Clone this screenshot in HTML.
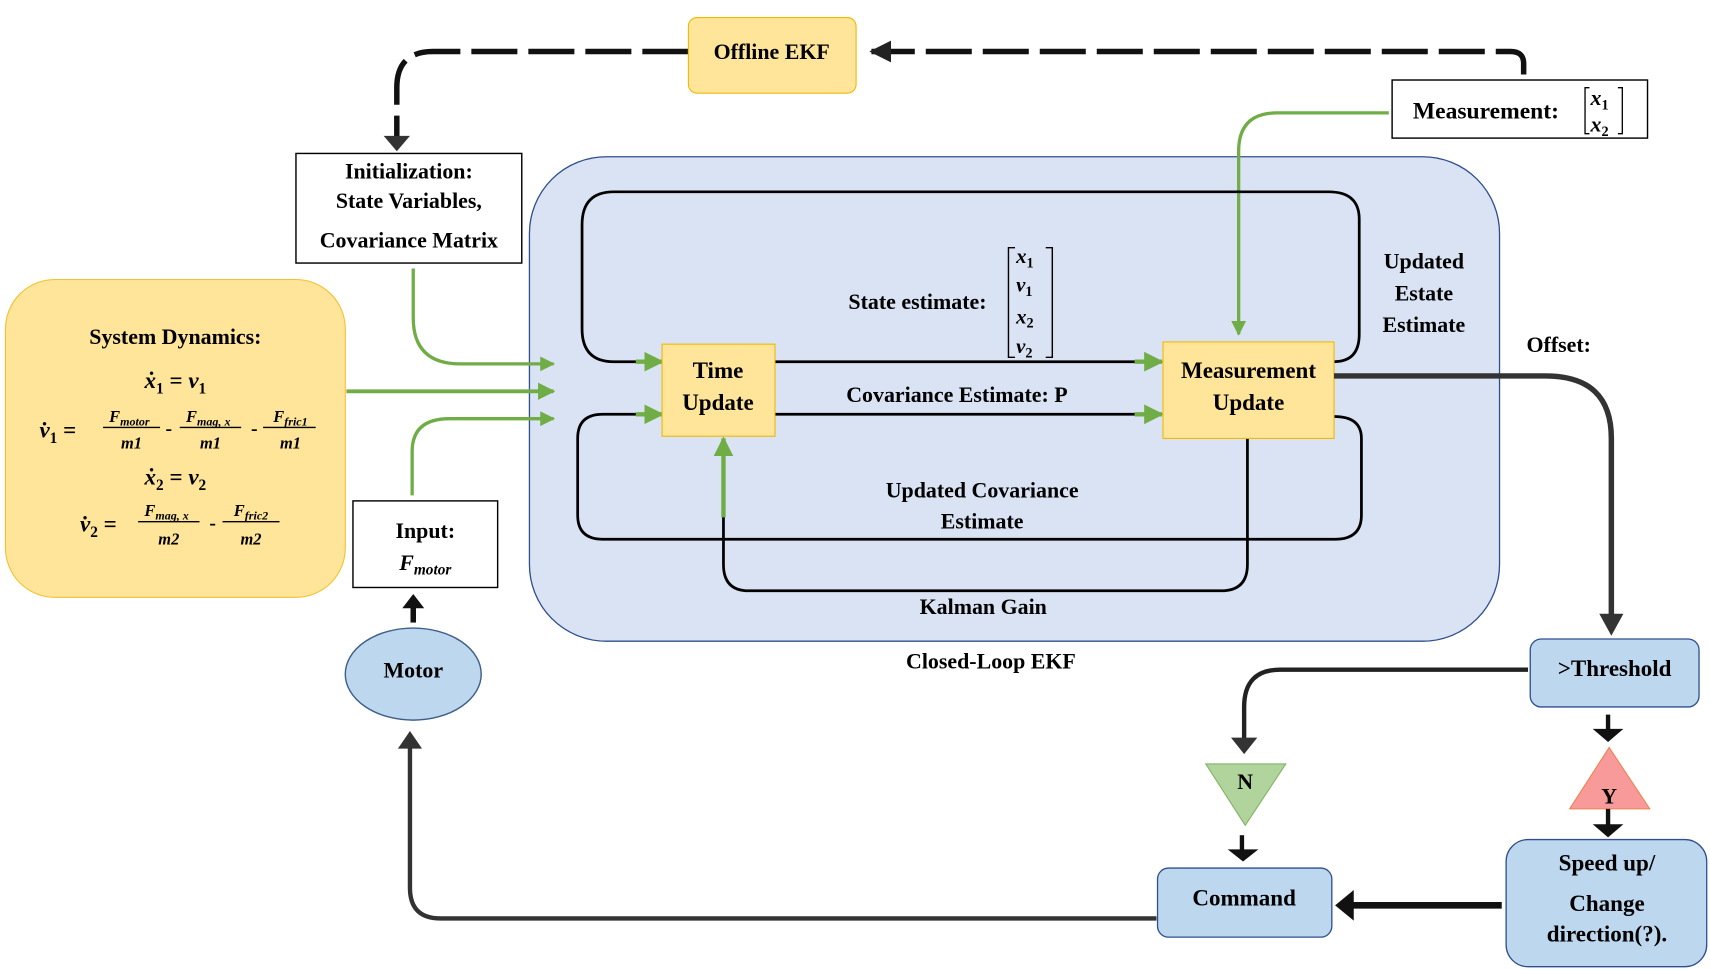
<!DOCTYPE html>
<html><head><meta charset="utf-8"><style>
html,body{margin:0;padding:0;background:#fff;}
svg{display:block;}
text{font-family:"Liberation Serif",serif;font-weight:bold;fill:#000;}
.i{font-style:italic;}
</style></head><body>
<svg width="1710" height="970" viewBox="0 0 1560 885" preserveAspectRatio="none" xmlns="http://www.w3.org/2000/svg">
<defs>
<marker id="ag" viewBox="0 0 10 10" refX="9" refY="5" markerWidth="4.5" markerHeight="4.5" orient="auto"><path d="M0,0L10,5L0,10z" fill="#70ad47"/></marker>
<marker id="ak" viewBox="0 0 10 10" refX="9" refY="5" markerWidth="4" markerHeight="4" orient="auto"><path d="M0,0L10,5L0,10z" fill="#222"/></marker>
</defs>

<rect x="483" y="143" width="885" height="442" rx="70" fill="#dae3f3" stroke="#2f4f8f" stroke-width="1.2"/>

<path d="M1390,68 L1390,58 Q1390,47 1378,47 L795,47" fill="none" stroke="#111" stroke-width="5" stroke-dasharray="42,10" marker-end="url(#ak)"/>
<path d="M628,47 L395,47 Q362,47 362,80 L362,128" fill="none" stroke="#111" stroke-width="5" stroke-dasharray="42,10"/>
<path d="M350,124 L374,124 L362,138z" fill="#333"/>

<rect x="628" y="16" width="153" height="69" rx="8" fill="#ffe599" stroke="#f0b800"/>
<text x="704" y="54" font-size="20" text-anchor="middle">Offline EKF</text>

<rect x="1270" y="73" width="233" height="53" fill="#fff" stroke="#000" stroke-width="1.3"/>
<text x="1289" y="108" font-size="21.5">Measurement:</text>
<path d="M1450,80 L1446,80 L1446,122 L1450,122 M1476,80 L1480,80 L1480,122 L1476,122" fill="none" stroke="#000" stroke-width="1.2"/>
<text x="1451" y="96" font-size="20" class="i">x<tspan font-size="13" dy="4" font-style="normal">1</tspan></text>
<text x="1451" y="120" font-size="20" class="i">x<tspan font-size="13" dy="4" font-style="normal">2</tspan></text>

<path d="M1267,103 L1165,103 Q1130,103 1130,138 L1130,305" fill="none" stroke="#70ad47" stroke-width="3" marker-end="url(#ag)"/>

<rect x="270" y="140" width="206" height="100" fill="#fff" stroke="#000" stroke-width="1.3"/>
<text x="373" y="163" font-size="20" text-anchor="middle">Initialization:</text>
<text x="373" y="190" font-size="20" text-anchor="middle">State Variables,</text>
<text x="373" y="226" font-size="20" text-anchor="middle">Covariance Matrix</text>

<rect x="5" y="255" width="310" height="290" rx="45" fill="#ffe599" stroke="#f5c030"/>
<text x="160" y="314" font-size="20" text-anchor="middle">System Dynamics:</text>
<text x="160" y="354" font-size="21" text-anchor="middle" class="i">ẋ<tspan font-size="14" dy="5" font-style="normal">1</tspan><tspan dy="-5" font-style="normal"> = </tspan>v<tspan font-size="14" dy="5" font-style="normal">1</tspan></text>
<text x="36" y="399" font-size="21" class="i">v̇<tspan font-size="14" dy="5" font-style="normal">1</tspan><tspan dy="-5" font-style="normal"> =</tspan></text>
<text x="118" y="385" font-size="15" text-anchor="middle" class="i">F<tspan font-size="11" dy="3">motor</tspan></text>
<line x1="94" y1="390" x2="146" y2="390" stroke="#000" stroke-width="1.3"/>
<text x="120" y="409" font-size="15" text-anchor="middle" class="i">m1</text>
<text x="151" y="397" font-size="18">-</text>
<text x="190" y="385" font-size="15" text-anchor="middle" class="i">F<tspan font-size="11" dy="3">mag, x</tspan></text>
<line x1="164" y1="390" x2="220" y2="390" stroke="#000" stroke-width="1.3"/>
<text x="192" y="409" font-size="15" text-anchor="middle" class="i">m1</text>
<text x="229" y="397" font-size="18">-</text>
<text x="265" y="385" font-size="15" text-anchor="middle" class="i">F<tspan font-size="11" dy="3">fric1</tspan></text>
<line x1="240" y1="390" x2="288" y2="390" stroke="#000" stroke-width="1.3"/>
<text x="265" y="409" font-size="15" text-anchor="middle" class="i">m1</text>
<text x="160" y="442" font-size="21" text-anchor="middle" class="i">ẋ<tspan font-size="14" dy="5" font-style="normal">2</tspan><tspan dy="-5" font-style="normal"> = </tspan>v<tspan font-size="14" dy="5" font-style="normal">2</tspan></text>
<text x="73" y="485" font-size="21" class="i">v̇<tspan font-size="14" dy="5" font-style="normal">2</tspan><tspan dy="-5" font-style="normal"> =</tspan></text>
<text x="152" y="471" font-size="15" text-anchor="middle" class="i">F<tspan font-size="11" dy="3">mag, x</tspan></text>
<line x1="126" y1="476" x2="182" y2="476" stroke="#000" stroke-width="1.3"/>
<text x="154" y="497" font-size="15" text-anchor="middle" class="i">m2</text>
<text x="191" y="483" font-size="18">-</text>
<text x="229" y="471" font-size="15" text-anchor="middle" class="i">F<tspan font-size="11" dy="3">fric2</tspan></text>
<line x1="203" y1="476" x2="255" y2="476" stroke="#000" stroke-width="1.3"/>
<text x="229" y="497" font-size="15" text-anchor="middle" class="i">m2</text>

<path d="M377,245 L377,290 Q377,332 420,332 L505,332" fill="none" stroke="#70ad47" stroke-width="3" marker-end="url(#ag)"/>
<path d="M316,357 L505,357" fill="none" stroke="#70ad47" stroke-width="3.5" marker-end="url(#ag)"/>
<path d="M376,452 L376,412 Q376,382 410,382 L505,382" fill="none" stroke="#70ad47" stroke-width="3" marker-end="url(#ag)"/>

<rect x="322" y="457" width="132" height="79" fill="#fff" stroke="#000" stroke-width="1.3"/>
<text x="388" y="491" font-size="20" text-anchor="middle">Input:</text>
<text x="388" y="520" font-size="20" text-anchor="middle" class="i">F<tspan font-size="14" dy="4">motor</tspan></text>

<path d="M377,568 L377,552" stroke="#111" stroke-width="5"/>
<path d="M367,555 L387,555 L377,542z" fill="#111"/>
<ellipse cx="377" cy="615" rx="62" ry="42" fill="#bdd7ee" stroke="#3e5f8a" stroke-width="1.3"/>
<text x="377" y="618" font-size="20" text-anchor="middle">Motor</text>

<path d="M707,330 L1060,330" fill="none" stroke="#000" stroke-width="2.5" marker-end="url(#ag)"/>
<path d="M1217,330 Q1240,330 1240,305 L1240,200 Q1240,175 1212,175 L560,175 Q531,175 531,205 L531,300 Q531,330 560,330 L604,330" fill="none" stroke="#000" stroke-width="2.5"/>
<path d="M580,330 L604,330" stroke="#70ad47" stroke-width="4" marker-end="url(#ag)"/>
<path d="M707,378 L1060,378" fill="none" stroke="#000" stroke-width="2.5"/>
<path d="M1035,378 L1060,378" stroke="#70ad47" stroke-width="4" marker-end="url(#ag)"/>
<path d="M1035,330 L1060,330" stroke="#70ad47" stroke-width="4" marker-end="url(#ag)"/>
<path d="M1217,380 Q1242,380 1242,400 L1242,470 Q1242,492 1218,492 L550,492 Q527,492 527,470 L527,400 Q527,378 550,378 L604,378" fill="none" stroke="#000" stroke-width="2.5"/>
<path d="M580,378 L604,378" stroke="#70ad47" stroke-width="4" marker-end="url(#ag)"/>
<path d="M1138,400 L1138,515 Q1138,539 1114,539 L683,539 Q660,539 660,515 L660,420" fill="none" stroke="#000" stroke-width="2.5"/>
<path d="M660,472 L660,400" stroke="#70ad47" stroke-width="4" marker-end="url(#ag)"/>

<rect x="604" y="314" width="103" height="84" fill="#ffe599" stroke="#f0b800"/>
<text x="655" y="345" font-size="21" text-anchor="middle">Time</text>
<text x="655" y="374" font-size="21" text-anchor="middle">Update</text>
<rect x="1061" y="312" width="156" height="88" fill="#ffe599" stroke="#f0b800"/>
<text x="1139" y="345" font-size="21" text-anchor="middle">Measurement</text>
<text x="1139" y="374" font-size="21" text-anchor="middle">Update</text>

<text x="837" y="282" font-size="20" text-anchor="middle">State estimate:</text>
<path d="M926,226 L920,226 L920,326 L926,326 M954,226 L960,226 L960,326 L954,326" fill="none" stroke="#000" stroke-width="1.3"/>
<text x="927" y="240" font-size="19" class="i">x<tspan font-size="13" dy="4" font-style="normal">1</tspan></text>
<text x="927" y="266" font-size="19" class="i">v<tspan font-size="13" dy="4" font-style="normal">1</tspan></text>
<text x="927" y="295" font-size="19" class="i">x<tspan font-size="13" dy="4" font-style="normal">2</tspan></text>
<text x="927" y="322" font-size="19" class="i">v<tspan font-size="13" dy="4" font-style="normal">2</tspan></text>
<text x="873" y="367" font-size="20" text-anchor="middle">Covariance Estimate: P</text>
<text x="896" y="454" font-size="20" text-anchor="middle">Updated Covariance</text>
<text x="896" y="482" font-size="20" text-anchor="middle">Estimate</text>
<text x="897" y="560" font-size="20" text-anchor="middle">Kalman Gain</text>
<text x="904" y="610" font-size="20" text-anchor="middle">Closed-Loop EKF</text>
<text x="1299" y="245" font-size="20" text-anchor="middle">Updated</text>
<text x="1299" y="274" font-size="20" text-anchor="middle">Estate</text>
<text x="1299" y="303" font-size="20" text-anchor="middle">Estimate</text>
<text x="1422" y="321" font-size="20" text-anchor="middle">Offset:</text>

<path d="M1217,343 L1410,343 Q1470,343 1470,400 L1470,563" fill="none" stroke="#333" stroke-width="5"/>
<path d="M1459,560 L1481,560 L1470,580z" fill="#333"/>

<rect x="1396" y="583" width="154" height="62" rx="10" fill="#bdd7ee" stroke="#2f4f8f" stroke-width="1.2"/>
<text x="1473" y="617" font-size="21" text-anchor="middle">&gt;Threshold</text>

<path d="M1394,611 L1168,611 Q1135,611 1135,645 L1135,675" fill="none" stroke="#222" stroke-width="4"/>
<path d="M1123,673 L1147,673 L1135,688z" fill="#333"/>
<path d="M1100,697 L1173,697 L1136,753z" fill="#b0d49c" stroke="#82b366"/>
<text x="1136" y="720" font-size="20" text-anchor="middle">N</text>
<path d="M1133,762 L1133,778" stroke="#111" stroke-width="4"/>
<path d="M1120,775 L1148,775 L1134,786z" fill="#111"/>

<path d="M1467,652 L1467,668" stroke="#111" stroke-width="4"/>
<path d="M1453,665 L1481,665 L1467,677z" fill="#111"/>
<path d="M1468,682 L1505,738 L1432,738z" fill="#f89a9a" stroke="#f08050"/>
<text x="1468" y="733" font-size="20" text-anchor="middle">Y</text>
<path d="M1467,738 L1467,756" stroke="#111" stroke-width="4"/>
<path d="M1453,752 L1481,752 L1467,764z" fill="#111"/>

<rect x="1374" y="766" width="183" height="116" rx="20" fill="#bdd7ee" stroke="#2f4f8f" stroke-width="1.2"/>
<text x="1466" y="794" font-size="21" text-anchor="middle">Speed up/</text>
<text x="1466" y="831" font-size="21" text-anchor="middle">Change</text>
<text x="1466" y="859" font-size="21" text-anchor="middle">direction(?).</text>

<path d="M1370,826 L1232,826" stroke="#111" stroke-width="6"/>
<path d="M1235,812 L1235,840 L1218,826z" fill="#111"/>

<rect x="1056" y="792" width="159" height="63" rx="10" fill="#bdd7ee" stroke="#2f4f8f" stroke-width="1.2"/>
<text x="1135" y="826" font-size="21" text-anchor="middle">Command</text>

<path d="M1055,838 L402,838 Q374,838 374,810 L374,682" fill="none" stroke="#333" stroke-width="4"/>
<path d="M363,683 L385,683 L374,667z" fill="#333"/>
</svg>
</body></html>
